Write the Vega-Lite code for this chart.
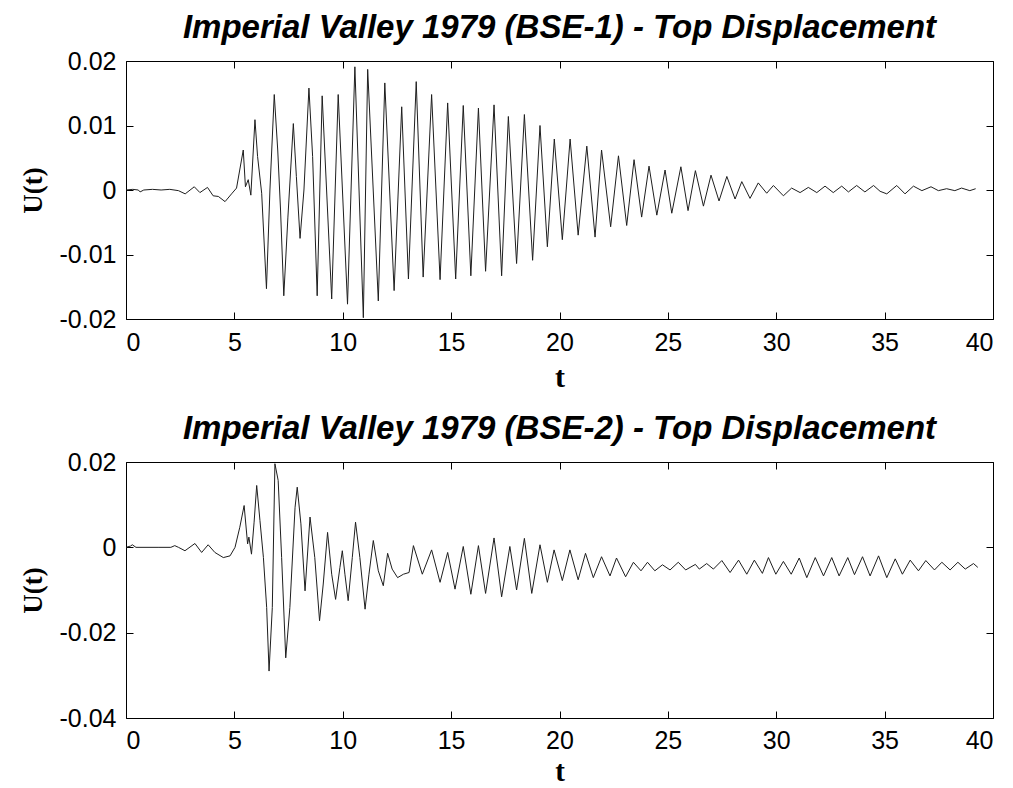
{
  "$schema": "https://vega.github.io/schema/vega-lite/v6.json",
  "padding": {"left": 18, "top": 11, "right": 5, "bottom": 0},
  "background": "white",
  "config": {
    "view": {"stroke": "black", "strokeWidth": 1},
    "axis": {"grid": false, "domain": false, "tickColor": "black", "tickSize": 7, "offset": -7, "tickWidth": 1,
      "labelFont": "Liberation Sans", "labelFontSize": 25, "labelColor": "black",
      "titleFont": "Liberation Serif", "titleFontWeight": "bold", "titleColor": "black"},
    "title": {"font": "Liberation Sans", "fontSize": 33, "fontStyle": "italic", "fontWeight": "bold", "color": "black", "offset": 4},
    "concat": {"spacing": 19}
  },
  "datasets": {
    "bse1": [
      {"t": 0, "u": 0}, {"t": 0.31, "u": 0.0001}, {"t": 0.57, "u": 0}, {"t": 0.65, "u": -0.0003}, {"t": 0.82, "u": 0},
      {"t": 1.22, "u": 0.0001}, {"t": 1.62, "u": 0}, {"t": 2.02, "u": 0.0001}, {"t": 2.42, "u": -0.0001}, {"t": 2.73, "u": -0.0006},
      {"t": 3.15, "u": 0.0005}, {"t": 3.41, "u": -0.0004}, {"t": 3.76, "u": 0.0004}, {"t": 4.02, "u": -0.0009}, {"t": 4.26, "u": -0.001},
      {"t": 4.57, "u": -0.0018}, {"t": 4.87, "u": -0.0006}, {"t": 5.1, "u": 0.0003}, {"t": 5.41, "u": 0.0062}, {"t": 5.51, "u": 0.0005},
      {"t": 5.64, "u": 0.0016}, {"t": 5.76, "u": -0.0008}, {"t": 5.95, "u": 0.0109}, {"t": 6.07, "u": 0.0052}, {"t": 6.26, "u": -0.0005},
      {"t": 6.48, "u": -0.0153}, {"t": 6.64, "u": 0}, {"t": 6.84, "u": 0.0148}, {"t": 7.0, "u": 0.0062}, {"t": 7.13, "u": -0.0031},
      {"t": 7.28, "u": -0.0164}, {"t": 7.47, "u": -0.0042}, {"t": 7.72, "u": 0.0103}, {"t": 7.86, "u": 0.0021}, {"t": 8.03, "u": -0.0075},
      {"t": 8.21, "u": 0}, {"t": 8.44, "u": 0.0158}, {"t": 8.61, "u": 0.0052}, {"t": 8.82, "u": -0.0164}, {"t": 9.05, "u": 0.0146},
      {"t": 9.49, "u": -0.0169}, {"t": 9.79, "u": 0.0148}, {"t": 10.22, "u": -0.0177}, {"t": 10.56, "u": 0.0191}, {"t": 10.95, "u": -0.0198},
      {"t": 11.15, "u": 0.0187}, {"t": 11.64, "u": -0.0172}, {"t": 11.94, "u": 0.0166}, {"t": 12.37, "u": -0.0156}, {"t": 12.72, "u": 0.0129},
      {"t": 13.03, "u": -0.0138}, {"t": 13.39, "u": 0.0168}, {"t": 13.71, "u": -0.0135}, {"t": 14.1, "u": 0.0148}, {"t": 14.49, "u": -0.0139},
      {"t": 14.84, "u": 0.0135}, {"t": 15.21, "u": -0.0138}, {"t": 15.56, "u": 0.0131}, {"t": 15.91, "u": -0.0133}, {"t": 16.26, "u": 0.0127},
      {"t": 16.59, "u": -0.0126}, {"t": 16.98, "u": 0.0132}, {"t": 17.33, "u": -0.0133}, {"t": 17.64, "u": 0.0114}, {"t": 18.02, "u": -0.0114},
      {"t": 18.38, "u": 0.0117}, {"t": 18.76, "u": -0.0109}, {"t": 19.1, "u": 0.01}, {"t": 19.44, "u": -0.0088}, {"t": 19.76, "u": 0.0079},
      {"t": 20.13, "u": -0.0077}, {"t": 20.49, "u": 0.0079}, {"t": 20.86, "u": -0.007}, {"t": 21.26, "u": 0.0068}, {"t": 21.64, "u": -0.0073},
      {"t": 21.94, "u": 0.0062}, {"t": 22.36, "u": -0.0057}, {"t": 22.72, "u": 0.0053}, {"t": 23.1, "u": -0.0055}, {"t": 23.44, "u": 0.0047},
      {"t": 23.79, "u": -0.0042}, {"t": 24.13, "u": 0.0037}, {"t": 24.49, "u": -0.0039}, {"t": 24.87, "u": 0.0031}, {"t": 25.18, "u": -0.0036},
      {"t": 25.6, "u": 0.0036}, {"t": 25.93, "u": -0.0032}, {"t": 26.27, "u": 0.003}, {"t": 26.64, "u": -0.0025}, {"t": 26.99, "u": 0.0023},
      {"t": 27.36, "u": -0.0017}, {"t": 27.72, "u": 0.0021}, {"t": 28.1, "u": -0.0014}, {"t": 28.41, "u": 0.0013}, {"t": 28.79, "u": -0.0013},
      {"t": 29.17, "u": 0.0011}, {"t": 29.56, "u": -0.0005}, {"t": 29.87, "u": 0.0007}, {"t": 30.33, "u": -0.0009}, {"t": 30.71, "u": 0.0003},
      {"t": 31.1, "u": -0.0004}, {"t": 31.48, "u": 0.0004}, {"t": 31.87, "u": -0.0004}, {"t": 32.25, "u": 0.0006}, {"t": 32.63, "u": -0.0004},
      {"t": 33.02, "u": 0.0006}, {"t": 33.33, "u": -0.0003}, {"t": 33.71, "u": 0.0007}, {"t": 34.09, "u": -0.0003}, {"t": 34.49, "u": 0.0007},
      {"t": 34.79, "u": -0.0002}, {"t": 35.1, "u": -0.0006}, {"t": 35.56, "u": 0.0007}, {"t": 35.94, "u": -0.0006}, {"t": 36.33, "u": 0.0006},
      {"t": 36.72, "u": -0.0001}, {"t": 37.14, "u": 0.0005}, {"t": 37.48, "u": -0.0001}, {"t": 37.86, "u": 0.0002}, {"t": 38.24, "u": -0.0001},
      {"t": 38.55, "u": 0.0003}, {"t": 38.93, "u": -0.0001}, {"t": 39.2, "u": 0.0002}
    ],
    "bse2": [
      {"t": 0, "u": 0}, {"t": 0.21, "u": 0.0003}, {"t": 0.29, "u": 0.0006}, {"t": 0.46, "u": 0}, {"t": 1.52, "u": 0},
      {"t": 2.07, "u": 0}, {"t": 2.25, "u": 0.0004}, {"t": 2.42, "u": 0}, {"t": 2.72, "u": -0.0008}, {"t": 3.18, "u": 0.0009},
      {"t": 3.49, "u": -0.0012}, {"t": 3.79, "u": 0.0006}, {"t": 4.1, "u": -0.0012}, {"t": 4.49, "u": -0.0024}, {"t": 4.8, "u": -0.002},
      {"t": 5.03, "u": 0}, {"t": 5.25, "u": 0.0047}, {"t": 5.45, "u": 0.0098}, {"t": 5.61, "u": 0.0008}, {"t": 5.67, "u": 0.0024},
      {"t": 5.79, "u": -0.0016}, {"t": 5.91, "u": 0.0059}, {"t": 6.03, "u": 0.0145}, {"t": 6.18, "u": 0.0063}, {"t": 6.34, "u": -0.0024},
      {"t": 6.49, "u": -0.0141}, {"t": 6.6, "u": -0.029}, {"t": 6.75, "u": -0.0141}, {"t": 6.87, "u": 0.0196}, {"t": 7.02, "u": 0.0157},
      {"t": 7.18, "u": -0.0024}, {"t": 7.37, "u": -0.0259}, {"t": 7.56, "u": -0.0141}, {"t": 7.8, "u": 0.0094}, {"t": 7.9, "u": 0.0141},
      {"t": 8.07, "u": 0.0055}, {"t": 8.26, "u": -0.0102}, {"t": 8.49, "u": 0.0071}, {"t": 8.71, "u": -0.0024}, {"t": 8.93, "u": -0.0172},
      {"t": 9.1, "u": -0.0086}, {"t": 9.3, "u": 0.0035}, {"t": 9.49, "u": -0.0063}, {"t": 9.67, "u": -0.0122}, {"t": 9.87, "u": -0.0047},
      {"t": 9.98, "u": -0.0008}, {"t": 10.1, "u": -0.0063}, {"t": 10.25, "u": -0.0125}, {"t": 10.44, "u": -0.0024}, {"t": 10.59, "u": 0.0059},
      {"t": 10.79, "u": -0.0024}, {"t": 11.03, "u": -0.0145}, {"t": 11.21, "u": -0.0063}, {"t": 11.41, "u": 0.0016}, {"t": 11.64, "u": -0.0055},
      {"t": 11.87, "u": -0.009}, {"t": 12.07, "u": -0.0014}, {"t": 12.28, "u": -0.0051}, {"t": 12.53, "u": -0.0071}, {"t": 12.8, "u": -0.0063},
      {"t": 13.06, "u": -0.0059}, {"t": 13.26, "u": 0.0004}, {"t": 13.67, "u": -0.0063}, {"t": 14.1, "u": -0.0006}, {"t": 14.49, "u": -0.0082},
      {"t": 14.84, "u": -0.0012}, {"t": 15.18, "u": -0.0098}, {"t": 15.56, "u": 0.0002}, {"t": 15.91, "u": -0.011}, {"t": 16.26, "u": 0.0004},
      {"t": 16.59, "u": -0.0108}, {"t": 16.98, "u": 0.0022}, {"t": 17.33, "u": -0.0116}, {"t": 17.71, "u": 0.0002}, {"t": 18.02, "u": -0.01},
      {"t": 18.38, "u": 0.0021}, {"t": 18.72, "u": -0.0108}, {"t": 19.1, "u": 0.0006}, {"t": 19.44, "u": -0.0082}, {"t": 19.75, "u": -0.0006},
      {"t": 20.13, "u": -0.0078}, {"t": 20.48, "u": -0.0006}, {"t": 20.86, "u": -0.0076}, {"t": 21.2, "u": -0.0014}, {"t": 21.56, "u": -0.0071},
      {"t": 21.94, "u": -0.0022}, {"t": 22.33, "u": -0.0067}, {"t": 22.63, "u": -0.0025}, {"t": 23.05, "u": -0.0069}, {"t": 23.41, "u": -0.0035},
      {"t": 23.76, "u": -0.0055}, {"t": 24.06, "u": -0.0035}, {"t": 24.4, "u": -0.0055}, {"t": 24.75, "u": -0.0041}, {"t": 25.1, "u": -0.0053},
      {"t": 25.48, "u": -0.0035}, {"t": 25.82, "u": -0.0053}, {"t": 26.27, "u": -0.004}, {"t": 26.45, "u": -0.0051}, {"t": 26.79, "u": -0.0038},
      {"t": 27.1, "u": -0.0051}, {"t": 27.49, "u": -0.0031}, {"t": 27.87, "u": -0.0059}, {"t": 28.26, "u": -0.003}, {"t": 28.64, "u": -0.0063},
      {"t": 28.99, "u": -0.003}, {"t": 29.36, "u": -0.0061}, {"t": 29.64, "u": -0.0024}, {"t": 29.98, "u": -0.0063}, {"t": 30.33, "u": -0.0033},
      {"t": 30.69, "u": -0.0063}, {"t": 31.06, "u": -0.0025}, {"t": 31.41, "u": -0.0071}, {"t": 31.8, "u": -0.0024}, {"t": 32.18, "u": -0.0067},
      {"t": 32.56, "u": -0.0024}, {"t": 32.9, "u": -0.0067}, {"t": 33.3, "u": -0.0024}, {"t": 33.61, "u": -0.0064}, {"t": 33.98, "u": -0.0022},
      {"t": 34.33, "u": -0.0067}, {"t": 34.72, "u": -0.002}, {"t": 35.1, "u": -0.0071}, {"t": 35.49, "u": -0.0027}, {"t": 35.82, "u": -0.0063},
      {"t": 36.18, "u": -0.003}, {"t": 36.56, "u": -0.0055}, {"t": 36.9, "u": -0.0031}, {"t": 37.3, "u": -0.0053}, {"t": 37.64, "u": -0.0035},
      {"t": 38.02, "u": -0.0053}, {"t": 38.38, "u": -0.0035}, {"t": 38.72, "u": -0.0051}, {"t": 39.1, "u": -0.0038}, {"t": 39.3, "u": -0.0047}
    ]
  },
  "vconcat": [
    {
      "title": "Imperial Valley 1979 (BSE-1) - Top Displacement",
      "width": 867, "height": 258,
      "data": {"name": "bse1"},
      "layer": [
        {
          "mark": {"type": "line", "color": "#1e1e1e", "strokeWidth": 1},
          "encoding": {
            "x": {"field": "t", "type": "quantitative", "scale": {"domain": [0, 40], "nice": false},
              "axis": {"values": [0, 5, 10, 15, 20, 25, 30, 35, 40], "title": "t", "titleFontSize": 30, "labelPadding": 11, "titlePadding": 7}},
            "y": {"field": "u", "type": "quantitative", "scale": {"domain": [-0.02, 0.02], "nice": false},
              "axis": {"values": [-0.02, -0.01, 0, 0.01, 0.02], "format": "~g", "labelExpr": "replace(datum.label, '\u2212', '-')", "title": "U(t)", "titleFontSize": 27, "labelPadding": 10, "titlePadding": 12}}
          }
        },
        {
          "mark": {"type": "line", "strokeOpacity": 0},
          "encoding": {
            "x": {"field": "t", "type": "quantitative", "axis": {"orient": "top", "values": [0, 5, 10, 15, 20, 25, 30, 35, 40], "labels": false, "title": null}},
            "y": {"field": "u", "type": "quantitative", "axis": {"orient": "right", "values": [-0.02, -0.01, 0, 0.01, 0.02], "labels": false, "title": null}}
          }
        }
      ],
      "resolve": {"axis": {"x": "independent", "y": "independent"}}
    },
    {
      "title": "Imperial Valley 1979 (BSE-2) - Top Displacement",
      "width": 867, "height": 256,
      "data": {"name": "bse2"},
      "layer": [
        {
          "mark": {"type": "line", "color": "#1e1e1e", "strokeWidth": 1},
          "encoding": {
            "x": {"field": "t", "type": "quantitative", "scale": {"domain": [0, 40], "nice": false},
              "axis": {"values": [0, 5, 10, 15, 20, 25, 30, 35, 40], "title": "t", "titleFontSize": 29, "labelPadding": 10, "titlePadding": 4}},
            "y": {"field": "u", "type": "quantitative", "scale": {"domain": [-0.04, 0.02], "nice": false},
              "axis": {"values": [-0.04, -0.02, 0, 0.02], "format": "~g", "labelExpr": "replace(datum.label, '\u2212', '-')", "title": "U(t)", "titleFontSize": 27, "labelPadding": 10, "titlePadding": 12}}
          }
        },
        {
          "mark": {"type": "line", "strokeOpacity": 0},
          "encoding": {
            "x": {"field": "t", "type": "quantitative", "axis": {"orient": "top", "values": [0, 5, 10, 15, 20, 25, 30, 35, 40], "labels": false, "title": null}},
            "y": {"field": "u", "type": "quantitative", "axis": {"orient": "right", "values": [-0.04, -0.02, 0, 0.02], "labels": false, "title": null}}
          }
        }
      ],
      "resolve": {"axis": {"x": "independent", "y": "independent"}}
    }
  ]
}
